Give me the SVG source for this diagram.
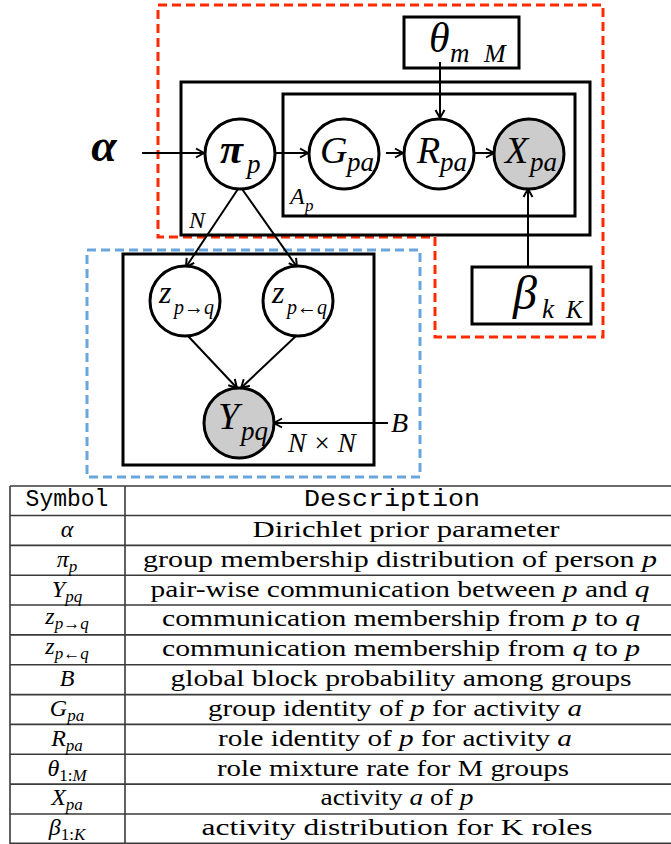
<svg xmlns="http://www.w3.org/2000/svg" width="671" height="844" viewBox="0 0 671 844">
<defs>
<style>
.plate{fill:none;stroke:#000;stroke-width:3}
.node{fill:#fff;stroke:#000;stroke-width:3}
.obs{fill:#cccccc;stroke:#000;stroke-width:3}
.edge{fill:none;stroke:#000;stroke-width:2;marker-end:url(#arr)}
.m{font-family:"Liberation Serif","Times New Roman",serif;font-style:italic;fill:#000}
.bm{font-family:"Liberation Serif","Times New Roman",serif;font-style:italic;font-weight:bold;fill:#000}
.tt{font-family:"Liberation Mono","Courier New",monospace;fill:#000}
.tline{stroke:#3a3a3a;stroke-width:1.6}
.d{font-family:"Liberation Serif","Times New Roman",serif;font-size:24px;fill:#000}
.s{font-family:"Liberation Serif","Times New Roman",serif;font-size:24px;font-style:italic;fill:#000}
</style>
<marker id="arr" markerWidth="12" markerHeight="12" refX="10" refY="6" orient="auto" markerUnits="userSpaceOnUse">
<path d="M2,1.5 L10,6 L2,10.5" fill="none" stroke="#000" stroke-width="2"/>
</marker>
</defs>
<rect width="671" height="844" fill="#fff"/>

<!-- dashed regions -->
<path id="red-region" d="M158,5 H603 V337 H435 V237 H158 Z" fill="none" stroke="#ff2a00" stroke-width="3" stroke-dasharray="9,5"/>
<rect id="blue-region" x="87" y="250" width="333" height="227" fill="none" stroke="#6aa6de" stroke-width="3" stroke-dasharray="9,5"/>

<!-- plates -->
<g id="plate-N">
<rect class="plate" x="181" y="82" width="409" height="153"/>
<text class="m" x="189" y="228" font-size="24">N</text>
</g>
<g id="plate-Ap">
<rect class="plate" x="283" y="94" width="292" height="122"/>
<text class="m" x="290" y="204" font-size="24">A</text>
<text class="m" x="305" y="211" font-size="17">p</text>
</g>
<g id="plate-theta">
<rect class="plate" x="404" y="17" width="115" height="51"/>
<text class="m" x="429" y="52" font-size="42">θ</text>
<text class="m" x="450" y="62" font-size="27">m</text>
<text class="m" x="484" y="62" font-size="26">M</text>
</g>
<g id="plate-beta">
<rect class="plate" x="472" y="267" width="119" height="57"/>
<text class="m" x="513" y="309" font-size="48">β</text>
<text class="m" x="542" y="318" font-size="27">k</text>
<text class="m" x="566" y="318" font-size="25">K</text>
</g>
<g id="plate-NxN">
<rect class="plate" x="123" y="254" width="251" height="211"/>
<text class="m" x="288" y="452" font-size="27">N × N</text>
</g>

<!-- connectors -->
<g id="connectors">
<line class="edge" x1="142" y1="153" x2="204" y2="153"/>
<line class="edge" x1="276" y1="153" x2="308" y2="153"/>
<line class="edge" x1="386" y1="153" x2="403" y2="153"/>
<line class="edge" x1="467" y1="153" x2="494" y2="153"/>
<line class="edge" x1="440" y1="62" x2="440" y2="118"/>
<line class="edge" x1="528" y1="267" x2="528" y2="189"/>
<line class="edge" x1="238" y1="189" x2="186" y2="267"/>
<line class="edge" x1="242" y1="189" x2="297" y2="267"/>
<line class="edge" x1="188" y1="336" x2="237" y2="388"/>
<line class="edge" x1="296" y1="336" x2="241" y2="388"/>
<line class="edge" x1="388" y1="423" x2="274" y2="423"/>
</g>

<!-- nodes -->
<g id="node-alpha">
<text class="bm" x="104" y="161" font-size="46" text-anchor="middle">α</text>
</g>
<g id="node-pi">
<circle class="node" cx="240" cy="154" r="35"/>
<text class="bm" x="220" y="163" font-size="42">π</text>
<text class="m" x="247" y="173" font-size="27">p</text>
</g>
<g id="node-G">
<circle class="node" cx="344" cy="154" r="35"/>
<text class="m" x="320" y="163" font-size="38">G</text>
<text class="m" x="347" y="171" font-size="27">pa</text>
</g>
<g id="node-R">
<circle class="node" cx="439" cy="154" r="35"/>
<text class="m" x="417" y="163" font-size="38">R</text>
<text class="m" x="440" y="171" font-size="27">pa</text>
</g>
<g id="node-X">
<circle class="obs" cx="529" cy="154" r="35"/>
<text class="m" x="505" y="163" font-size="38">X</text>
<text class="m" x="530" y="171" font-size="27">pa</text>
</g>
<g id="node-z1">
<circle class="node" cx="185" cy="301" r="35"/>
<text class="m" x="159" y="303" font-size="32">z</text>
<text class="m" x="174" y="314" font-size="22" textLength="40" lengthAdjust="spacingAndGlyphs">p→q</text>
</g>
<g id="node-z2">
<circle class="node" cx="298" cy="301" r="35"/>
<text class="m" x="272" y="303" font-size="32">z</text>
<text class="m" x="287" y="314" font-size="22" textLength="40" lengthAdjust="spacingAndGlyphs">p←q</text>
</g>
<g id="node-Y">
<circle class="obs" cx="239" cy="423" r="35"/>
<text class="m" x="218" y="429" font-size="38">Y</text>
<text class="m" x="241" y="440" font-size="27">pq</text>
</g>
<g id="node-B">
<text class="m" x="391" y="432" font-size="28">B</text>
</g>

<!-- table -->
<g id="table">
<line class="tline" x1="10" y1="486" x2="671" y2="486"/>
<line class="tline" x1="10" y1="515.5" x2="671" y2="515.5"/>
<line class="tline" x1="10" y1="545.4" x2="671" y2="545.4"/>
<line class="tline" x1="10" y1="575.2" x2="671" y2="575.2"/>
<line class="tline" x1="10" y1="605" x2="671" y2="605"/>
<line class="tline" x1="10" y1="634.9" x2="671" y2="634.9"/>
<line class="tline" x1="10" y1="664.7" x2="671" y2="664.7"/>
<line class="tline" x1="10" y1="694.6" x2="671" y2="694.6"/>
<line class="tline" x1="10" y1="724.4" x2="671" y2="724.4"/>
<line class="tline" x1="10" y1="754.3" x2="671" y2="754.3"/>
<line class="tline" x1="10" y1="784.1" x2="671" y2="784.1"/>
<line class="tline" x1="10" y1="814" x2="671" y2="814"/>
<line class="tline" x1="10" y1="843.2" x2="671" y2="843.2"/>
<line class="tline" x1="10" y1="486" x2="10" y2="844"/>
<line class="tline" x1="125" y1="486" x2="125" y2="844"/>

<text class="tt" x="67" y="506" font-size="23" text-anchor="middle">Symbol</text>
<text class="tt" x="392" y="506" font-size="24" text-anchor="middle" textLength="176" lengthAdjust="spacingAndGlyphs">Description</text>

<text class="s" x="67" y="537" text-anchor="middle">α</text>
<text class="s" x="67" y="567" text-anchor="middle">π<tspan font-size="17" dy="5">p</tspan></text>
<text class="s" x="67" y="597" text-anchor="middle">Y<tspan font-size="17" dy="5">pq</tspan></text>
<text class="s" x="67" y="624" text-anchor="middle">z<tspan font-size="17" dy="5">p→q</tspan></text>
<text class="s" x="67" y="654" text-anchor="middle">z<tspan font-size="17" dy="5">p←q</tspan></text>
<text class="s" x="67" y="686" text-anchor="middle">B</text>
<text class="s" x="67" y="716" text-anchor="middle">G<tspan font-size="17" dy="5">pa</tspan></text>
<text class="s" x="67" y="746" text-anchor="middle">R<tspan font-size="17" dy="5">pa</tspan></text>
<text class="s" x="67" y="776" text-anchor="middle">θ<tspan font-size="17" dy="5" font-style="normal">1:</tspan><tspan font-size="17">M</tspan></text>
<text class="s" x="67" y="805" text-anchor="middle">X<tspan font-size="17" dy="5">pa</tspan></text>
<text class="s" x="67" y="835" text-anchor="middle">β<tspan font-size="17" dy="5" font-style="normal">1:</tspan><tspan font-size="17">K</tspan></text>

<text class="d" x="406" y="537" text-anchor="middle" textLength="307" lengthAdjust="spacingAndGlyphs">Dirichlet prior parameter</text>
<text class="d" x="400" y="567" text-anchor="middle" textLength="514" lengthAdjust="spacingAndGlyphs">group membership distribution of person <tspan font-style="italic">p</tspan></text>
<text class="d" x="400" y="597" text-anchor="middle" textLength="499" lengthAdjust="spacingAndGlyphs">pair-wise communication between <tspan font-style="italic">p</tspan> and <tspan font-style="italic">q</tspan></text>
<text class="d" x="401" y="626" text-anchor="middle" textLength="478" lengthAdjust="spacingAndGlyphs">communication membership from <tspan font-style="italic">p</tspan> to <tspan font-style="italic">q</tspan></text>
<text class="d" x="401" y="656" text-anchor="middle" textLength="478" lengthAdjust="spacingAndGlyphs">communication membership from <tspan font-style="italic">q</tspan> to <tspan font-style="italic">p</tspan></text>
<text class="d" x="401" y="686" text-anchor="middle" textLength="461" lengthAdjust="spacingAndGlyphs">global block probability among groups</text>
<text class="d" x="395" y="716" text-anchor="middle" textLength="374" lengthAdjust="spacingAndGlyphs">group identity of <tspan font-style="italic">p</tspan> for activity <tspan font-style="italic">a</tspan></text>
<text class="d" x="395" y="746" text-anchor="middle" textLength="354" lengthAdjust="spacingAndGlyphs">role identity of <tspan font-style="italic">p</tspan> for activity <tspan font-style="italic">a</tspan></text>
<text class="d" x="393" y="776" text-anchor="middle" textLength="352" lengthAdjust="spacingAndGlyphs">role mixture rate for M groups</text>
<text class="d" x="397" y="805" text-anchor="middle" textLength="153" lengthAdjust="spacingAndGlyphs">activity <tspan font-style="italic">a</tspan> of <tspan font-style="italic">p</tspan></text>
<text class="d" x="397" y="835" text-anchor="middle" textLength="391" lengthAdjust="spacingAndGlyphs">activity distribution for K roles</text>
</g>
</svg>
